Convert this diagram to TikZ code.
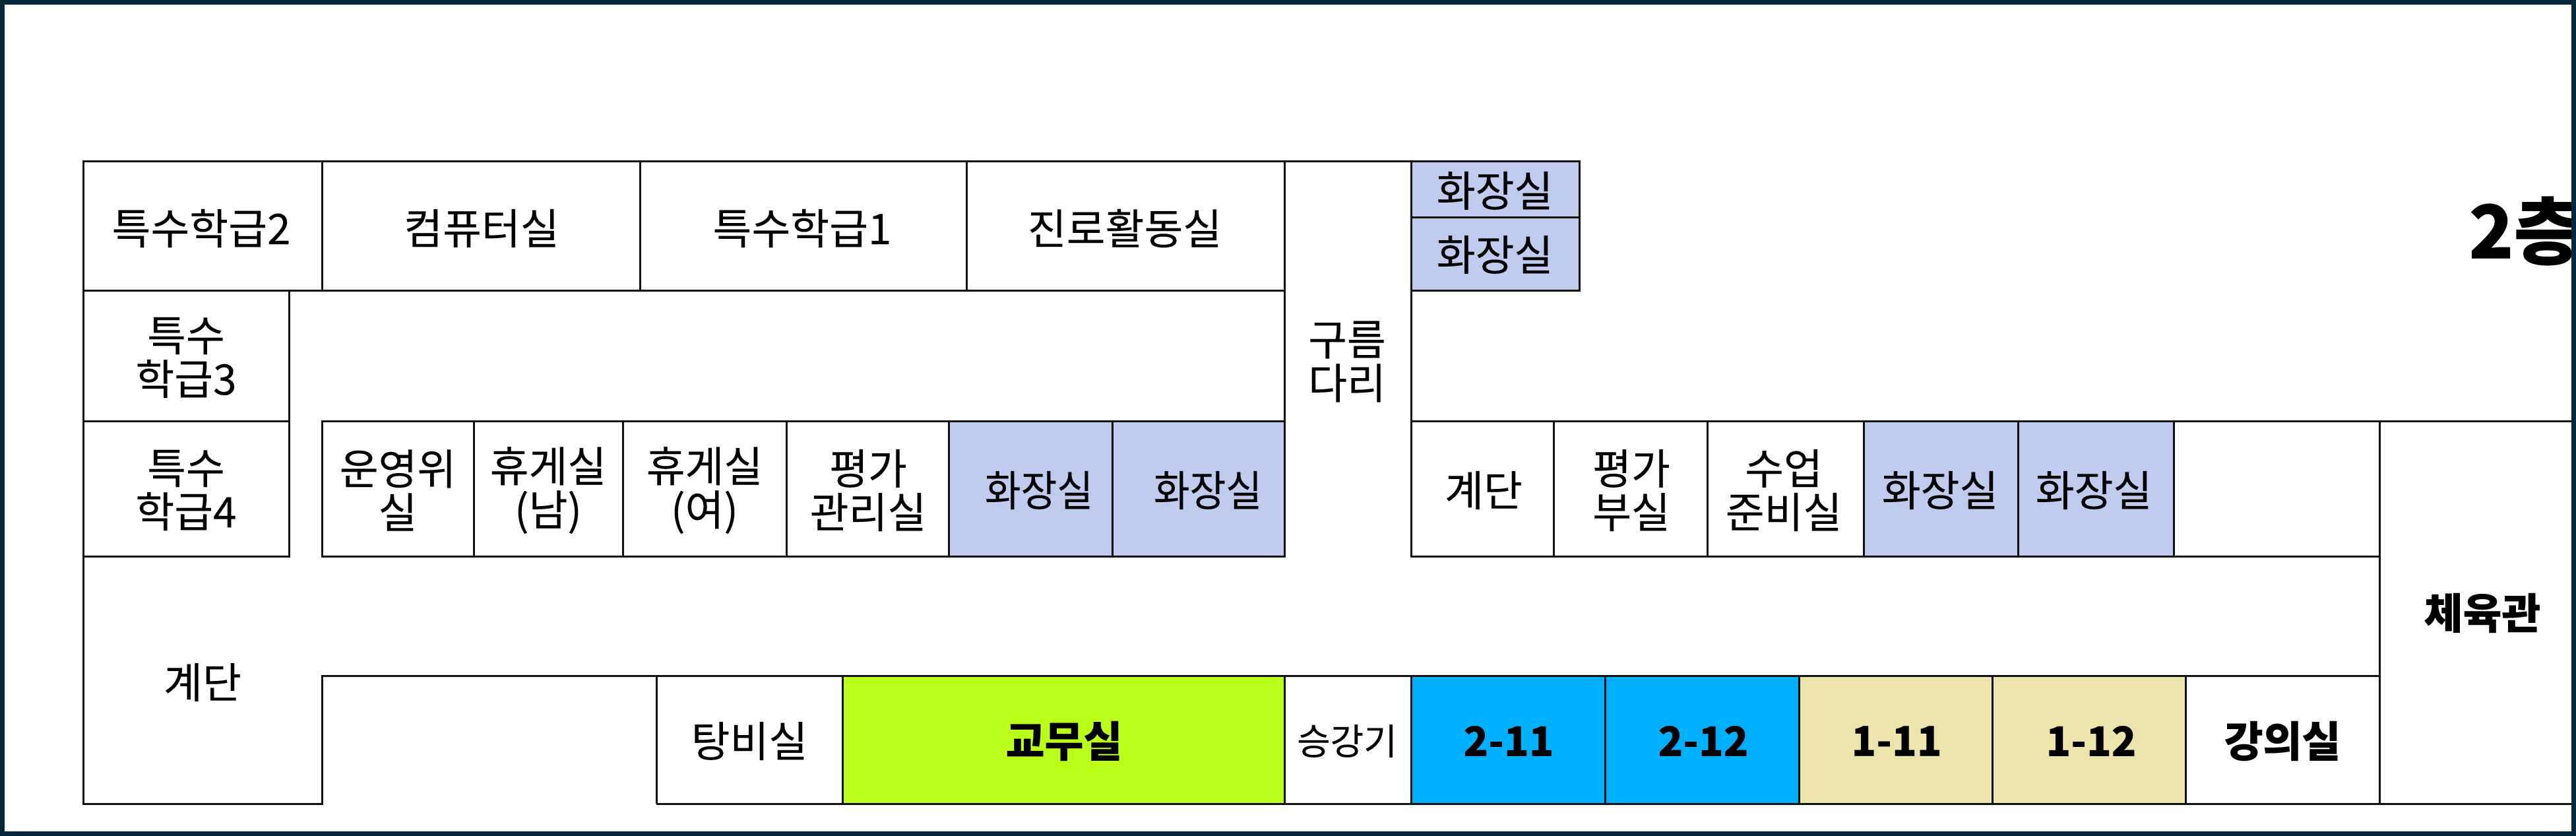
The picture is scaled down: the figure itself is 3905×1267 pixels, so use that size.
\documentclass[tikz,border=0pt]{standalone}
\usepackage{fontspec}
\setmainfont{Noto Sans CJK KR}[FakeBold=0.15]
\definecolor{frame}{HTML}{03273B}
\definecolor{wc}{HTML}{BFCCEE}
\definecolor{lime}{HTML}{B9FF1A}
\definecolor{sky}{HTML}{00B0FF}
\definecolor{khaki}{HTML}{ECE4AC}
\definecolor{ink}{HTML}{101010}
\tikzset{
 wall/.style={draw=ink,line width=1.5pt,line join=miter},
 txt/.style={inner sep=0pt,align=center,text=black,font=\fontsize{32}{33}\selectfont},
 small/.style={font=\fontsize{27.5}{30}\selectfont},
 heavy/.style={font=\fontsize{32}{33}\selectfont\bfseries},
 digits/.style={font=\fontsize{31}{33}\selectfont\bfseries},
 narrow/.style={transform shape,xscale=.93},
}
\newcommand{\lbl}[5][]{\node[txt,#1] (#2) at (#3,#4) {#5};}
\begin{document}
\begin{tikzpicture}[x=0.5pt,y=-0.5pt]
\useasboundingbox (0,0) rectangle (3905,1267);
\fill[white] (0,0) rectangle (3905,1267);
% filled rooms
\foreach \a/\b/\c/\d/\f in {2139/245/2394/330/wc,2139/330/2394/441/wc,1438/638/1686/843/wc,1686/638/1947/843/wc,2825/638/3059/843/wc,3059/638/3295/843/wc,1277/1024/1947/1218/lime,2139/1024/2433/1218/sky,2433/1024/2727/1218/sky,2727/1024/3020/1218/khaki,3020/1024/3313/1218/khaki}
  \filldraw[wall,fill=\f] (\a,\b) rectangle (\c,\d);
% outlines
\draw[wall] (126,245) rectangle (488,441);
\draw[wall] (488,245) rectangle (970,441);
\draw[wall] (970,245) rectangle (1465,441);
\draw[wall] (1465,245) rectangle (1947,441);
\draw[wall] (126,441) rectangle (438,638);
\draw[wall] (126,638) rectangle (438,843);
\foreach \a/\c in {488/718,718/944,944/1192,1192/1438,2139/2355,2355/2588,2588/2825,3295/3607}
  \draw[wall] (\a,638) rectangle (\c,843);
\draw[wall] (1947,245) -- (2139,245);
\draw[wall] (1947,245) -- (1947,843);
\draw[wall] (2139,245) -- (2139,843);
\draw[wall] (1947,638) -- (1438,638);
\draw[wall] (126,843) -- (126,1218) -- (488,1218) -- (488,1024) -- (3607,1024);
\draw[wall] (2139,638) -- (3905,638);
\draw[wall] (3607,638) -- (3607,1218);
\draw[wall] (995,1218) -- (3905,1218);
\draw[wall] (995,1024) -- (995,1218);
\draw[wall] (1277,1024) -- (1277,1218);
\draw[wall] (1947,1024) -- (1947,1218);
\draw[wall] (3313,1024) -- (3313,1218);
% labels
\lbl{a1}{305}{346}{특수학급2}
\lbl{a2}{730}{346}{컴퓨터실}
\lbl{a3}{1216}{346}{특수학급1}
\lbl{a4}{1705}{346}{진로활동실}
\lbl{a5}{2042}{548}{구름\\다리}
\lbl{a6}{2266}{289}{화장실}
\lbl{a7}{2266}{386}{화장실}
\lbl{b1}{282}{542}{특수\\학급3}
\lbl{b2}{282}{743}{특수\\학급4}
\lbl{b3}{603}{743}{운영위\\실}
\lbl{b4}{831}{743}{휴게실\\(남)}
\lbl{b5}{1068}{743}{휴게실\\(여)}
\lbl{b6}{1316}{743}{평가\\관리실}
\lbl[narrow]{b7}{1575}{743}{화장실}
\lbl[narrow]{b8}{1831}{743}{화장실}
\lbl{b9}{2249}{743}{계단}
\lbl{b10}{2473}{743}{평가\\부실}
\lbl{b11}{2704}{743}{수업\\준비실}
\lbl{b12}{2941}{743}{화장실}
\lbl{b13}{3174}{743}{화장실}
\lbl{c1}{307}{1034}{계단}
\lbl{c2}{1136}{1123}{탕비실}
\lbl[heavy]{c3}{1613}{1123}{교무실}
\lbl[small]{c4}{2042}{1123}{승강기}
\lbl[digits]{c5}{2287}{1123}{2-11}
\lbl[digits]{c6}{2582}{1123}{2-12}
\lbl[digits]{c7}{2875}{1123}{1-11}
\lbl[digits]{c8}{3170}{1123}{1-12}
\lbl[heavy]{c9}{3460}{1123}{강의실}
\lbl[heavy]{c10}{3763}{929}{체육관}
\node[txt,anchor=west,font=\fontsize{56}{60}\selectfont\bfseries] (f) at (3742,350) {2층};
\draw[frame,line width=3.5pt] (3.5,3.5) rectangle (3901.5,1263.5);
\end{tikzpicture}
\end{document}
